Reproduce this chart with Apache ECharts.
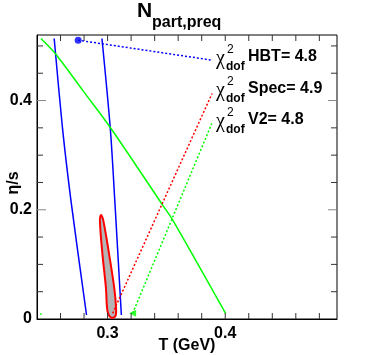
<!DOCTYPE html>
<html>
<head>
<meta charset="utf-8">
<script src="https://cdn.jsdelivr.net/npm/echarts@6/dist/echarts.min.js"></script>
<style>
html, body { margin: 0; background: #fff; }
#main { width: 374px; height: 355px; }
</style>
</head>
<body>
<div id="main"></div>
<script>
// 曲线数据 (T, eta/s)
var blueLeft = [[0.2546, 0.5136], [0.2617, 0.3489], [0.2688, 0.2178], [0.2821, 0.0073]];
var blueRight = [[0.2952, 0.5136], [0.3023, 0.3489], [0.3061, 0.2178], [0.3117, 0.0073]];
var greenCurve = [[0.2433, 0.5136], [0.2560, 0.4849], [0.2787, 0.4191], [0.3029, 0.3489],
    [0.3468, 0.2086], [0.3554, 0.1812], [0.4003, 0.0104]];
var redEllipse = [[0.2944, 0.1903], [0.2963, 0.1810], [0.3014, 0.1171], [0.3057, 0.0562],
    [0.3072, 0.0196], [0.3066, 0.0050], [0.3030, 0.0025], [0.3000, 0.0134],
    [0.2986, 0.0567], [0.2957, 0.1171], [0.2935, 0.1775]];
var blueDotted = [[0.2750, 0.5105], [0.3894, 0.4737]];
var redDotted = [[0.3043, 0.0104], [0.3888, 0.4128]];
var greenDotted = [[0.3213, 0.0104], [0.3886, 0.3581]];
var bluePoint = [[0.2750, 0.5105]];
var redPoint = [[0.3043, 0.0104]];
var greenPoint = [[0.3213, 0.0104]];
var greenTiny = [[0.2433, 0.009]];
var chiLabels = ['HBT= 4.8', 'Spec= 4.9', 'V2= 4.8'];

// 刻度
var xTicks = [0.26, 0.28, 0.30, 0.32, 0.34, 0.36, 0.38, 0.40, 0.42, 0.44, 0.46, 0.48];
var yTicks = [0.05, 0.10, 0.15, 0.20, 0.25, 0.30, 0.35, 0.40, 0.45, 0.50];
var yMajor = [0.20, 0.40];
var X_MIN = 0.24, X_MAX = 0.495, Y_MIN = 0, Y_MAX = 0.52;

var FONT = 'Liberation Sans';

var chart = echarts.init(document.getElementById('main'));

function dotted(data, color) {
    return {
        type: 'line', data: data, showSymbol: false, silent: true,
        lineStyle: { color: color, width: 1.5, type: [2, 2] }
    };
}
function solid(data, color, smooth) {
    return {
        type: 'line', data: data, showSymbol: false, silent: true, smooth: smooth,
        lineStyle: { color: color, width: 1.5 }
    };
}
function marker(data, color, symbol, size, rotate) {
    return {
        type: 'scatter', data: data, symbol: symbol, symbolSize: size, symbolRotate: rotate || 0,
        itemStyle: { color: color }, silent: true
    };
}

// 四边的刻度线
function tickLine(p, dx, dy, color) {
    return {
        type: 'line',
        shape: { x1: p[0], y1: p[1], x2: p[0] + dx, y2: p[1] + dy },
        style: { stroke: color, lineWidth: 1 }
    };
}
var tickSeries = {
    type: 'custom', data: [0], silent: true, clip: false, z: 10,
    renderItem: function (params, api) {
        var els = [];
        xTicks.forEach(function (t) {
            els.push(tickLine(api.coord([t, Y_MIN]), 0, -6, '#333'));
            els.push(tickLine(api.coord([t, Y_MAX]), 0, 6, '#333'));
        });
        yTicks.forEach(function (t) {
            var len = yMajor.indexOf(t) >= 0 ? 9 : 6;
            var c = yMajor.indexOf(t) >= 0 ? '#888' : '#333';
            els.push(tickLine(api.coord([X_MIN, t]), len, 0, c));
            els.push(tickLine(api.coord([X_MAX, t]), -len, 0, c));
        });
        return { type: 'group', children: els };
    }
};

var legendGraphics = [];
chiLabels.forEach(function (txt, i) {
    var y0 = 57 + i * 31.5;
    legendGraphics.push(
        { type: 'text', x: 216, y: y0 + 2, style: { text: 'χ', fontFamily: 'Liberation Serif', fontSize: 20, fill: '#000', verticalAlign: 'middle' } },
        { type: 'text', x: 227, y: y0 - 7, style: { text: '2', fontFamily: FONT, fontSize: 12, fill: '#000', verticalAlign: 'middle' } },
        { type: 'text', x: 226, y: y0 + 10, style: { text: 'dof', fontFamily: FONT, fontWeight: 'bold', fontSize: 12, fill: '#000', verticalAlign: 'middle' } },
        { type: 'text', x: 248, y: y0, style: { text: txt, fontFamily: FONT, fontWeight: 'bold', fontSize: 16, fill: '#000', verticalAlign: 'middle' } }
    );
});

var option = {
    animation: false,
    grid: { left: 37, right: 37, top: 35, bottom: 36, outerBoundsMode: 'none',
        show: true, borderColor: '#000', borderWidth: 1, backgroundColor: 'transparent' },
    xAxis: {
        type: 'value', min: X_MIN, max: X_MAX, interval: 0.02,
        axisLine: { show: true, onZero: false, lineStyle: { color: '#000' } },
        axisTick: { show: false },
        splitLine: { show: false },
        axisLabel: {
            margin: 7, color: '#000', fontFamily: FONT, fontWeight: 'bold', fontSize: 16,
            formatter: function (v) { return Math.round(v * 1000) % 100 === 0 ? v.toFixed(1) : ''; }
        }
    },
    yAxis: {
        type: 'value', min: Y_MIN, max: Y_MAX, interval: 0.05,
        axisLine: { show: true, onZero: false, lineStyle: { color: '#000' } },
        axisTick: { show: false },
        splitLine: { show: false },
        axisLabel: {
            margin: 5, color: '#000', fontFamily: FONT, fontWeight: 'bold', fontSize: 16,
            formatter: function (v) {
                var k = Math.round(v * 100);
                if (k % 20 !== 0) return '';
                return k === 0 ? '0' : v.toFixed(1);
            }
        }
    },
    graphic: [
        { type: 'text', x: 137, y: 22, style: { text: 'N', fontFamily: FONT, fontWeight: 'bold', fontSize: 21, fill: '#000', verticalAlign: 'bottom' } },
        { type: 'text', x: 152, y: 31, style: { text: 'part,preq', fontFamily: FONT, fontWeight: 'bold', fontSize: 16, fill: '#000', verticalAlign: 'bottom' } },
        { type: 'text', x: 187, y: 346, style: { text: 'T (GeV)', fontFamily: FONT, fontWeight: 'bold', fontSize: 16, fill: '#000', align: 'center', verticalAlign: 'middle' } },
        { type: 'text', x: 14, y: 183, rotation: Math.PI / 2, style: { text: 'η/s', fontFamily: FONT, fontWeight: 'bold', fontSize: 16, fill: '#000', align: 'center', verticalAlign: 'middle' } }
    ].concat(legendGraphics),
    series: [
        tickSeries,
        {
            type: 'custom', data: redEllipse, silent: true, z: 3,
            renderItem: function (params, api) {
                if (params.dataIndex !== 0) return null;
                var pts = redEllipse.map(function (p) { return api.coord(p); });
                return {
                    type: 'polygon',
                    shape: { points: pts, smooth: 0.35 },
                    style: { fill: '#b4b4b4', stroke: '#ff0000', lineWidth: 2 }
                };
            }
        },
        solid(blueLeft, '#0000ff', 0.3),
        solid(blueRight, '#0000ff', 0.3),
        solid(greenCurve, '#00ff00', 0.3),
        dotted(blueDotted, '#0000ff'),
        dotted(redDotted, '#ff0000'),
        dotted(greenDotted, '#00ff00'),
        marker(bluePoint, '#0000ff', 'circle', 7),
        marker(redPoint, '#ff0000', 'rect', 6),
        marker(greenPoint, '#00ff00', 'triangle', 7, 90),
        marker(greenTiny, '#00ff00', 'circle', 2)
    ]
};

chart.setOption(option);
</script>
</body>
</html>
